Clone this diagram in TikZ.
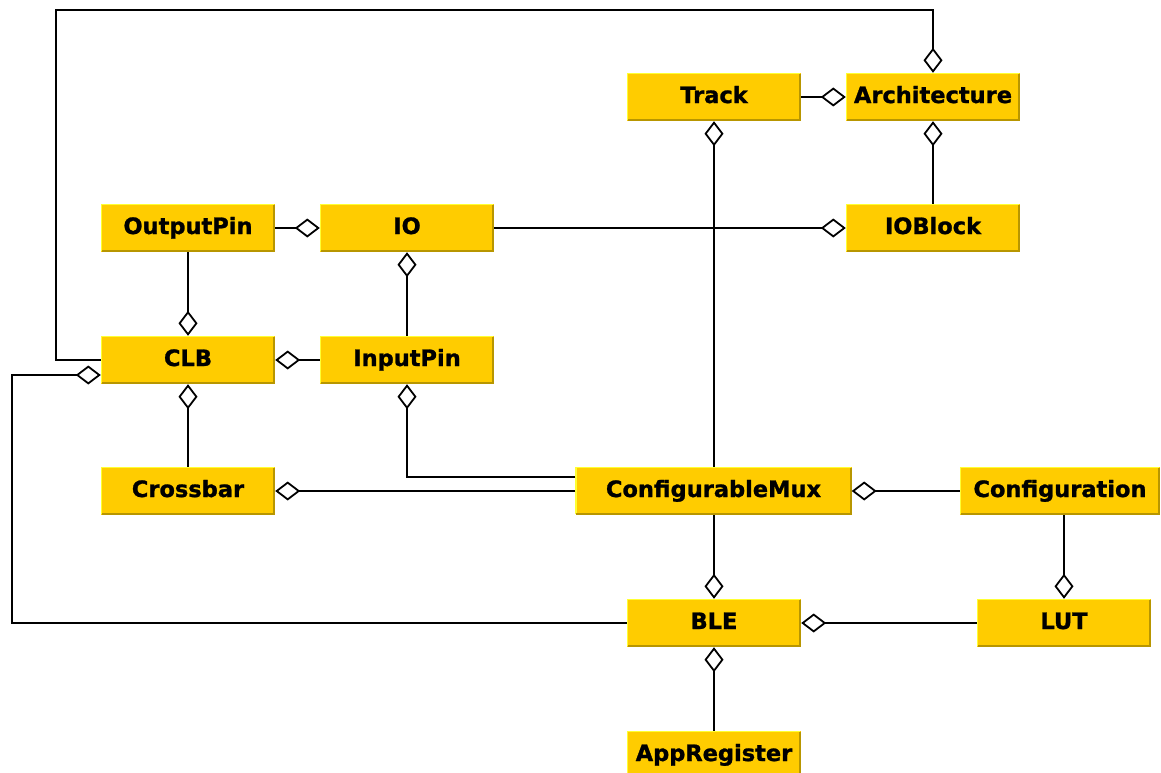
\documentclass[tikz,border=0pt]{standalone}
\usepackage{fontspec}
\setmainfont{DejaVu Sans}
\newfontfamily\lblfont[FakeBold=1.2]{DejaVu Sans Bold}
\usetikzlibrary{arrows.meta}
\definecolor{boxfill}{HTML}{FFCC00}
\definecolor{boxhi}{HTML}{FFFF33}
\definecolor{boxsh}{HTML}{B89600}
\tikzset{
  cls/.style={fill=boxfill, inner sep=0pt, minimum height=48pt, minimum width=174pt,
    text height=16pt, text depth=4pt, font=\fontsize{22.5pt}{26pt}\lblfont},
  agg/.style={line width=1.8pt, -{Diamond[open, fill=white, length=25pt, width=19pt]}},
}
\begin{document}
\begin{tikzpicture}[x=1pt, y=-1pt]
\useasboundingbox (0,0) rectangle (1161,773);
% classes
\node[cls] (track) at (714,97) {Track};
\node[cls] (arch) at (933,97) {Architecture};
\node[cls] (outpin) at (188,228) {OutputPin};
\node[cls] (io) at (407,228) {IO};
\node[cls] (ioblock) at (933,228) {IOBlock};
\node[cls] (clb) at (188,360) {CLB};
\node[cls] (inpin) at (407,360) {InputPin};
\node[cls] (xbar) at (188,491) {Crossbar};
\node[cls, minimum width=276pt] (cmux) at (713.5,491) {ConfigurableMux};
\node[cls, minimum width=200pt] (config) at (1060,491) {Configuration};
\node[cls] (ble) at (714,623) {BLE};
\node[cls] (lut) at (1064,623) {LUT};
\node[cls] (appreg) at (714,755) {AppRegister};
% bevelled borders
\foreach \n in {track,arch,outpin,io,ioblock,clb,inpin,xbar,cmux,config,ble,lut,appreg}{
  \draw[boxhi, line width=1.5pt] ([shift={(0.75pt,0.75pt)}]\n.south west) -- ([shift={(0.75pt,-0.75pt)}]\n.north west) -- ([shift={(-0.75pt,-0.75pt)}]\n.north east);
  \draw[boxsh, line width=2pt] ([shift={(-1pt,-1pt)}]\n.north east) -- ([shift={(-1pt,1pt)}]\n.south east) -- ([shift={(1pt,1pt)}]\n.south west);
}
% route corners
\coordinate (topleft) at (56,10);
\coordinate (botleft) at (12,375);
% aggregations
\draw[agg] (track) -- (arch);
\draw[agg] (clb.west) -| (topleft) -| (arch.north);
\draw[agg] (ioblock) -- (arch);
\draw[agg] (outpin) -- (io);
\draw[agg] (io) -- (ioblock);
\draw[agg] (outpin) -- (clb);
\draw[agg] (inpin) -- (io);
\draw[agg] (inpin) -- (clb);
\draw[agg] (xbar) -- (clb);
\draw[agg] (track.south |- cmux.north) -- (track.south);
\draw[agg] ([yshift=14pt]cmux.west) -| (inpin.south);
\draw[agg] (cmux) -- (xbar);
\draw[agg] (config) -- (cmux);
\draw[agg] (ble.north |- cmux.south) -- (ble.north);
\draw[agg] (lut) -- (ble);
\draw[agg] (lut.north |- config.south) -- (lut.north);
\draw[agg] (ble.west) -| (botleft) -- (botleft -| clb.west);
\draw[agg] (appreg) -- (ble);
\end{tikzpicture}
\end{document}
